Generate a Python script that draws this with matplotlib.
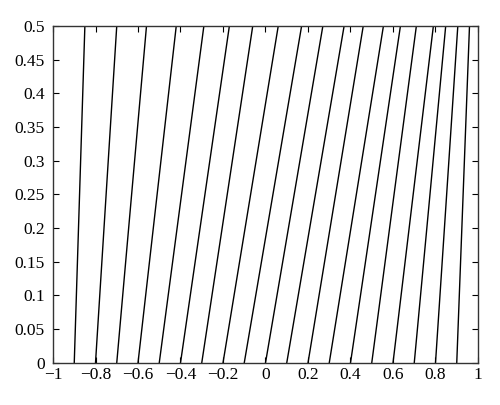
import numpy as np
import matplotlib
matplotlib.use('Agg')
import matplotlib.pyplot as plt

# x position of each line at y = 0 and at y = 0.5
x_bottom = [-0.9, -0.8, -0.7, -0.6, -0.5, -0.4, -0.3, -0.2, -0.1, 0.0,
            0.1, 0.2, 0.3, 0.4, 0.5, 0.6, 0.7, 0.8, 0.9]
x_top = [-0.85, -0.70, -0.56, -0.42, -0.29, -0.17, -0.06, 0.06, 0.17, 0.27,
         0.37, 0.46, 0.555, 0.635, 0.71, 0.79, 0.848, 0.905, 0.96]
y_ends = [0.0, 0.5]

plt.rcParams['font.family'] = ['Liberation Serif', 'DejaVu Serif']

fig = plt.figure(figsize=(5, 4.05), dpi=100)
ax = fig.add_axes([0.106, 0.104, 0.85, 0.832])

for xb, xt in zip(x_bottom, x_top):
  ax.plot([xb, xt], y_ends, '-', color='black', lw=1.0)

ax.set_xlim(-1, 1)
ax.set_ylim(0, 0.5)
ax.set_xticks(np.arange(-1, 1.01, 0.2))
ax.set_yticks(np.arange(0, 0.501, 0.05))
ax.set_xticklabels(['\u22121', '\u22120.8', '\u22120.6', '\u22120.4', '\u22120.2',
                    '0', '0.2', '0.4', '0.6', '0.8', '1'])
ax.set_yticklabels(['0', '0.05', '0.1', '0.15', '0.2', '0.25', '0.3',
                    '0.35', '0.4', '0.45', '0.5'])
ax.tick_params(direction='in', top=True, right=True, length=4, width=0.8,
               labelsize=12.5, colors='black')
ax.tick_params(axis='x', pad=3)
ax.tick_params(axis='y', pad=6)
for s in ax.spines.values():
  s.set_linewidth(1.0)
  s.set_color('#333333')

fig.savefig('out.png', dpi=100)
